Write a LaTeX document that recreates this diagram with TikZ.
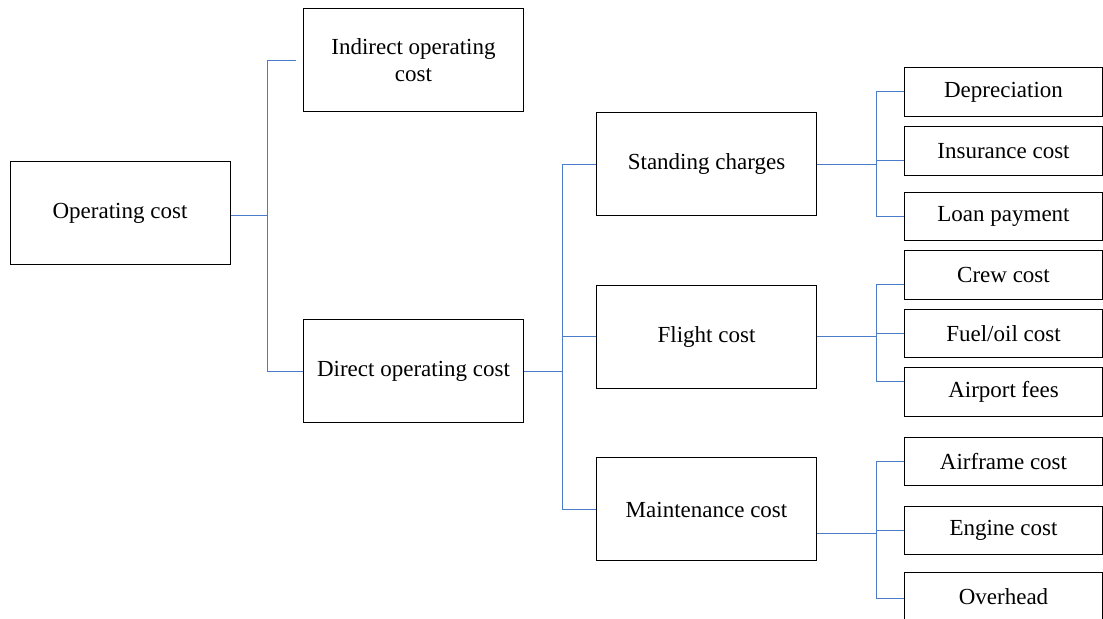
\documentclass[tikz,border=0pt]{standalone}
\usepackage{fontspec}
\setmainfont{Liberation Serif}
\usepackage{tikz}
\usetikzlibrary{calc}
\definecolor{linkblue}{HTML}{4A7CC9}

\begin{document}
\begin{tikzpicture}[x=0.5pt, y=-0.5pt,
  box/.style={draw=black, line width=0.5pt, minimum width=110pt,
    minimum height=51.5pt, align=center, inner sep=2pt,
    font=\fontsize{11.5}{13.5}\selectfont},
  leaf/.style={box, minimum width=98.75pt, minimum height=24.25pt},
  link/.style={draw=linkblue, line width=0.5pt}
]
  \useasboundingbox (0,0) rectangle (1103,619);

  % root and first level
  \node[box] (opcost)   at (120,213)    {Operating cost};
  \node[box] (indirect) at (413.5,60.5) {Indirect operating\\cost};
  \node[box] (direct)   at (413.5,371.5) {Direct operating cost};

  % direct cost groups
  \node[box] (standing) at (706.5,164.5) {Standing charges};
  \node[box] (flight)   at (706.5,337)   {Flight cost};
  \node[box] (maint)    at (706.5,509.5) {Maintenance cost};

  % cost items
  \node[leaf] (deprec)   at (1003.5,92)    {Depreciation};
  \node[leaf] (insur)    at (1003.5,151)   {Insurance cost};
  \node[leaf] (loan)     at (1003.5,216.4) {Loan payment};
  \node[leaf] (crew)     at (1003.5,275)   {Crew cost};
  \node[leaf] (fuel)     at (1003.5,333.5) {Fuel/oil cost};
  \node[leaf] (airport)  at (1003.5,392)   {Airport fees};
  \node[leaf] (airframe) at (1003.5,461.3) {Airframe cost};
  \node[leaf] (engine)   at (1003.5,530.5) {Engine cost};
  \node[leaf] (overhead) at (1003.5,597)   {Overhead};

  % connectors
  \draw[link] ($(opcost.east)+(0,3)$) -- ++(36.5,0) |- ([xshift=-3.5pt]indirect.west);
  \draw[link] ($(opcost.east)+(0,3)$) -- ++(36.5,0) |- (direct.west);

  \draw[link] (direct.east) -- ++(38.5,0) |- (standing.west);
  \draw[link] (direct.east) -- ++(38.5,0) |- (flight.west);
  \draw[link] (direct.east) -- ++(38.5,0) |- (maint.west);

  \draw[link] (standing.east) -- ++(59.5,0) |- (deprec.west);
  \draw[link] (standing.east) -- ++(59.5,0) |- ($(insur.west)+(0,10)$);
  \draw[link] (standing.east) -- ++(59.5,0) |- (loan.west);

  \draw[link] (flight.east) -- ++(59.5,0) |- ($(crew.west)+(0,10)$);
  \draw[link] (flight.east) -- ++(59.5,0) |- (fuel.west);
  \draw[link] (flight.east) -- ++(59.5,0) |- ($(airport.west)+(0,-10)$);

  \draw[link] ($(maint.east)+(0,24.5)$) -- ++(59.5,0) |- (airframe.west);
  \draw[link] ($(maint.east)+(0,24.5)$) -- ++(59.5,0) |- (engine.west);
  \draw[link] ($(maint.east)+(0,24.5)$) -- ++(59.5,0) |- ($(overhead.west)+(0,2)$);
\end{tikzpicture}
\end{document}
